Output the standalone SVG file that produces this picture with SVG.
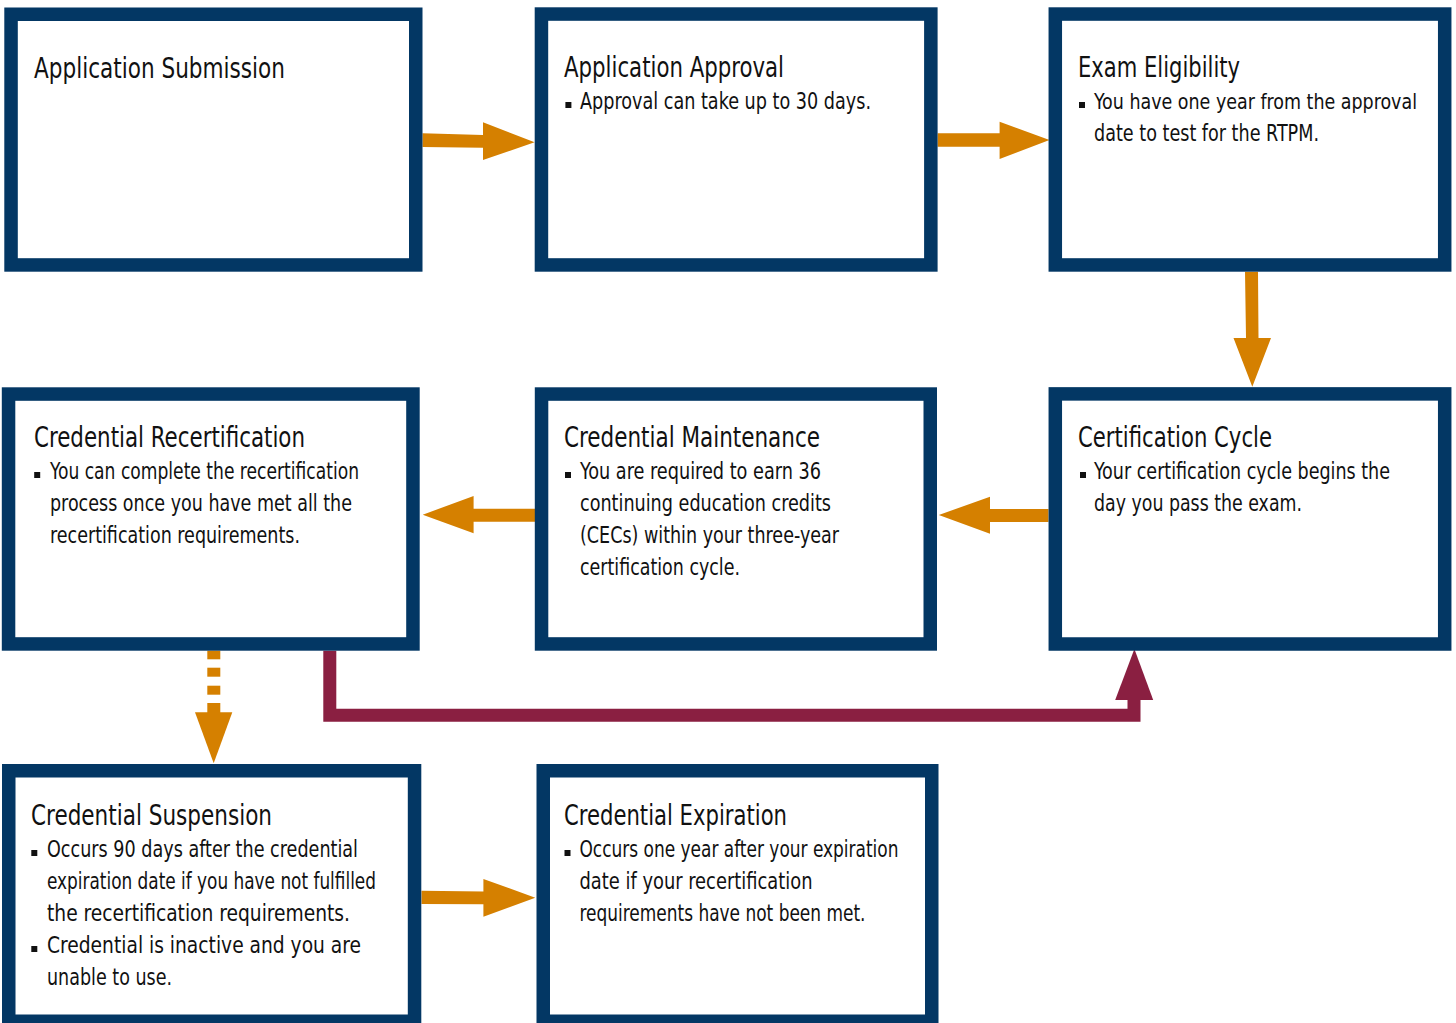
<svg xmlns="http://www.w3.org/2000/svg" width="1456" height="1023" viewBox="0 0 1456 1023">
<style>
.box{fill:#fff;stroke:#033764;stroke-width:13.5;stroke-linejoin:miter}
.t{font-family:"Liberation Sans Narrow","Arial Narrow","DejaVu Sans Condensed","Liberation Sans",sans-serif;fill:#111;font-size:28.5px}
.b{font-family:"Liberation Sans Narrow","Arial Narrow","DejaVu Sans Condensed","Liberation Sans",sans-serif;fill:#111;font-size:23.5px}
.sq{fill:#111}
.ora{fill:#D58000}
.mar{fill:#8A1F41}
</style>
<rect width="1456" height="1023" fill="#fff"/>
<g id="connectors">
<polygon class="ora" points="422.5,133.3 483,135 483,122.3 534.6,142.3 483,160 483,147.7 422.5,147"/>
<polygon class="ora" points="937.6,133.3 999.6,133.3 999.6,121.7 1049.5,140 999.6,159 999.6,146.7 937.6,146.7"/>
<polygon class="ora" points="1245,271.7 1258,271.7 1258.5,338 1271,338 1252.3,386.7 1233.5,338 1246,338"/>
<polygon class="ora" points="1048.5,509 990,509 990,496.7 938.8,515 990,533.7 990,522 1048.5,522"/>
<polygon class="ora" points="535,508.7 473.6,508.7 473.6,496 422.7,514.7 473.6,533.3 473.6,521.7 535,521.7"/>
<polygon class="ora" points="421.5,890.7 483.4,891.5 483.4,879 535.3,897.7 483.4,916.7 483.4,904.3 421.5,904"/>
<g class="ora">
<rect x="207.3" y="650.7" width="13" height="8.6"/>
<rect x="207.3" y="667.7" width="13" height="9"/>
<rect x="207.3" y="685.7" width="13" height="9"/>
<rect x="207.3" y="703" width="13" height="10"/>
<polygon points="195,712.3 232.3,712.3 213.7,763.3"/>
</g>
<polyline points="329.8,650.7 329.8,715.2 1134,715.2 1134,698" fill="none" stroke="#8A1F41" stroke-width="13" stroke-linejoin="miter"/>
<polygon class="mar" points="1115.2,700 1153.2,700 1134.4,649"/>
</g>
<g id="node-application-submission">
<rect class="box" x="11.05" y="14.25" width="404.7" height="250.7"/>
<text class="t" x="34" y="77.5" textLength="251" lengthAdjust="spacingAndGlyphs">Application Submission</text>
</g>
<g id="node-application-approval">
<rect class="box" x="541.45" y="14.05" width="389.4" height="250.9"/>
<text class="t" x="564" y="77" textLength="220" lengthAdjust="spacingAndGlyphs">Application Approval</text>
<rect class="sq" x="565.4" y="102" width="6" height="6"/>
<text class="b" x="580" y="109" textLength="291" lengthAdjust="spacingAndGlyphs">Approval can take up to 30 days.</text>
</g>
<g id="node-exam-eligibility">
<rect class="box" x="1055.3" y="14.05" width="389.4" height="250.9"/>
<text class="t" x="1078" y="77" textLength="162" lengthAdjust="spacingAndGlyphs">Exam Eligibility</text>
<rect class="sq" x="1079" y="102" width="6" height="6"/>
<text class="b" x="1094" y="109" textLength="323" lengthAdjust="spacingAndGlyphs" style="font-size:21px">You have one year from the approval</text>
<text class="b" x="1094" y="141" textLength="225" lengthAdjust="spacingAndGlyphs">date to test for the RTPM.</text>
</g>
<g id="node-certification-cycle">
<rect class="box" x="1055.3" y="393.9" width="389.4" height="250.1"/>
<text class="t" x="1078" y="447" textLength="194" lengthAdjust="spacingAndGlyphs">Certification Cycle</text>
<rect class="sq" x="1080" y="472" width="6" height="6"/>
<text class="b" x="1094" y="479" textLength="296" lengthAdjust="spacingAndGlyphs">Your certification cycle begins the</text>
<text class="b" x="1094" y="511" textLength="208" lengthAdjust="spacingAndGlyphs">day you pass the exam.</text>
</g>
<g id="node-credential-maintenance">
<rect class="box" x="541.55" y="394.05" width="388.7" height="249.9"/>
<text class="t" x="564" y="447" textLength="256" lengthAdjust="spacingAndGlyphs">Credential Maintenance</text>
<rect class="sq" x="565" y="472" width="6" height="6"/>
<text class="b" x="580" y="479" textLength="241" lengthAdjust="spacingAndGlyphs">You are required to earn 36</text>
<text class="b" x="580" y="511" textLength="251" lengthAdjust="spacingAndGlyphs">continuing education credits</text>
<text class="b" x="580" y="543" textLength="259" lengthAdjust="spacingAndGlyphs">(CECs) within your three-year</text>
<text class="b" x="580" y="575" textLength="160" lengthAdjust="spacingAndGlyphs">certification cycle.</text>
</g>
<g id="node-credential-recertification">
<rect class="box" x="8.55" y="394.05" width="404.4" height="249.9"/>
<text class="t" x="34" y="447" textLength="271" lengthAdjust="spacingAndGlyphs">Credential Recertification</text>
<rect class="sq" x="34.2" y="472" width="6" height="6"/>
<text class="b" x="50" y="479" textLength="309" lengthAdjust="spacingAndGlyphs">You can complete the recertification</text>
<text class="b" x="50" y="511" textLength="302" lengthAdjust="spacingAndGlyphs">process once you have met all the</text>
<text class="b" x="50" y="543" textLength="250" lengthAdjust="spacingAndGlyphs">recertification requirements.</text>
</g>
<g id="node-credential-suspension">
<rect class="box" x="8.75" y="770.75" width="405.8" height="250.5"/>
<text class="t" x="31" y="825" textLength="241" lengthAdjust="spacingAndGlyphs">Credential Suspension</text>
<rect class="sq" x="31.3" y="850" width="6" height="6"/>
<text class="b" x="47" y="857" textLength="311" lengthAdjust="spacingAndGlyphs">Occurs 90 days after the credential</text>
<text class="b" x="47" y="889" textLength="329" lengthAdjust="spacingAndGlyphs">expiration date if you have not fulfilled</text>
<text class="b" x="47" y="921" textLength="303" lengthAdjust="spacingAndGlyphs">the recertification requirements.</text>
<rect class="sq" x="31.3" y="946" width="6" height="6"/>
<text class="b" x="47" y="953" textLength="314" lengthAdjust="spacingAndGlyphs">Credential is inactive and you are</text>
<text class="b" x="47" y="985" textLength="125" lengthAdjust="spacingAndGlyphs">unable to use.</text>
</g>
<g id="node-credential-expiration">
<rect class="box" x="543.25" y="770.75" width="388.5" height="250.5"/>
<text class="t" x="564" y="825" textLength="223" lengthAdjust="spacingAndGlyphs">Credential Expiration</text>
<rect class="sq" x="564.5" y="850" width="6" height="6"/>
<text class="b" x="579.5" y="857" textLength="319" lengthAdjust="spacingAndGlyphs">Occurs one year after your expiration</text>
<text class="b" x="579.5" y="889" textLength="233" lengthAdjust="spacingAndGlyphs">date if your recertification</text>
<text class="b" x="579.5" y="921" textLength="286" lengthAdjust="spacingAndGlyphs">requirements have not been met.</text>
</g>
</svg>
